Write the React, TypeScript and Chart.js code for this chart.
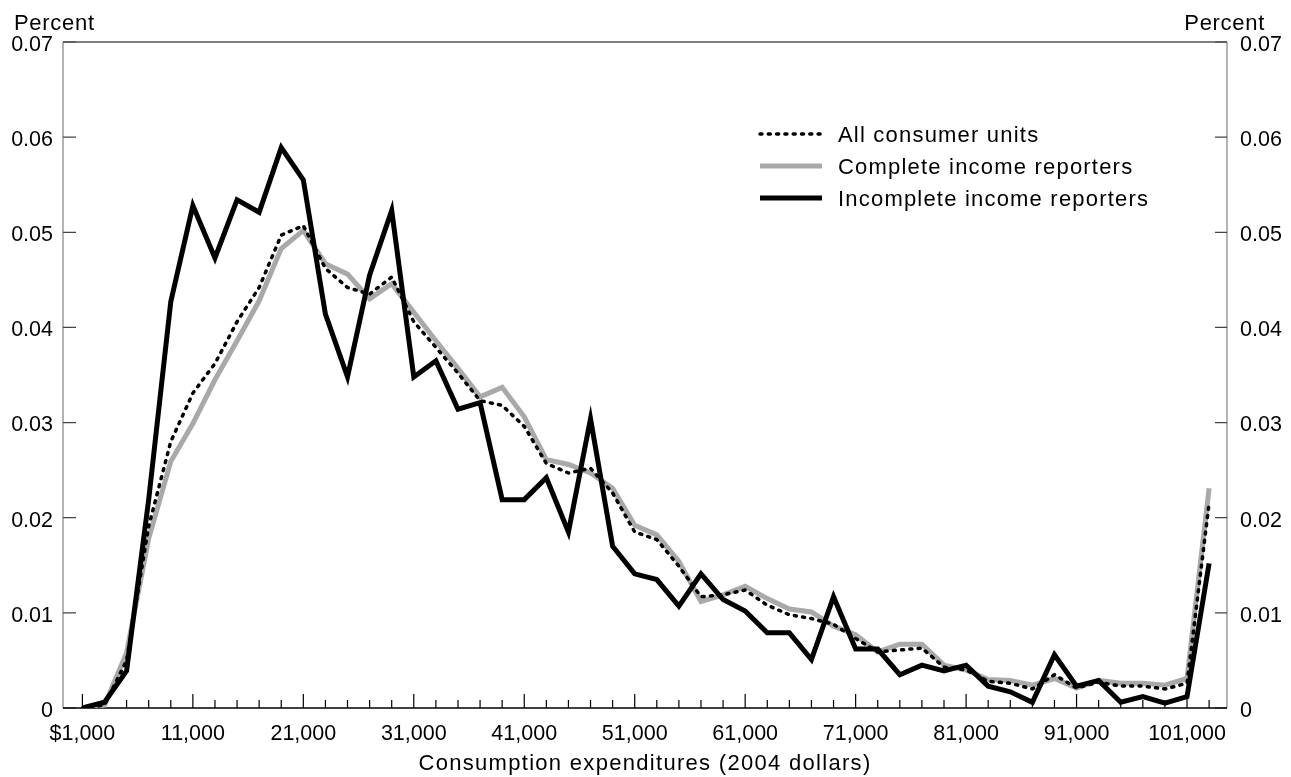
import React, { useEffect, useRef } from 'react';
import { Chart, registerables } from 'chart.js';

Chart.register(...registerables);

// Consumption expenditures (2004 dollars), bin points
const expenditures = [
  1000, 3000, 5000, 7000, 9000, 11000, 13000, 15000, 17000, 19000,
  21000, 23000, 25000, 27000, 29000, 31000, 33000, 35000, 37000, 39000,
  41000, 43000, 45000, 47000, 49000, 51000, 53000, 55000, 57000, 59000,
  61000, 63000, 65000, 67000, 69000, 71000, 73000, 75000, 77000, 79000,
  81000, 83000, 85000, 87000, 89000, 91000, 93000, 95000, 97000, 99000,
  101000, 103000,
];

const allConsumerUnits = [
  0, 0.0003, 0.005, 0.0191, 0.028, 0.0331, 0.0362, 0.0406, 0.0442, 0.0497,
  0.0507, 0.0462, 0.0442, 0.0435, 0.0453, 0.0406, 0.0379, 0.0352, 0.0323, 0.0318,
  0.0296, 0.0257, 0.0247, 0.0252, 0.0226, 0.0185, 0.0177, 0.0149, 0.0117, 0.0119,
  0.0124, 0.0108, 0.0098, 0.0094, 0.0088, 0.0073, 0.0059, 0.0061, 0.0063, 0.0043,
  0.004, 0.0028, 0.0026, 0.002, 0.0035, 0.0021, 0.0027, 0.0023, 0.0023, 0.002,
  0.0026, 0.0215,
];

const completeReporters = [
  0, 0.0003, 0.0058, 0.0178, 0.0259, 0.0299, 0.0345, 0.0386, 0.0428, 0.0483,
  0.0502, 0.0467, 0.0456, 0.043, 0.0446, 0.0416, 0.0386, 0.0357, 0.0327, 0.0337,
  0.0306, 0.0261, 0.0256, 0.0247, 0.0231, 0.0192, 0.0182, 0.0154, 0.0112, 0.0119,
  0.0128, 0.0115, 0.0104, 0.0101, 0.0086, 0.0077, 0.0059, 0.0067, 0.0067, 0.0045,
  0.004, 0.003, 0.0029, 0.0024, 0.0031, 0.0021, 0.0029, 0.0026, 0.0026, 0.0024,
  0.0031, 0.0231,
];

const incompleteReporters = [
  0, 0.0006, 0.0039, 0.0219, 0.0427, 0.0528, 0.0473, 0.0534, 0.0521, 0.0589,
  0.0555, 0.0414, 0.0348, 0.0455, 0.0523, 0.0348, 0.0365, 0.0314, 0.0321, 0.0219,
  0.0219, 0.0242, 0.0185, 0.0304, 0.017, 0.0141, 0.0135, 0.0107, 0.0141, 0.0114,
  0.0102, 0.0079, 0.0079, 0.0051, 0.0117, 0.0062, 0.0062, 0.0035, 0.0045, 0.0039,
  0.0045, 0.0023, 0.0017, 0.0006, 0.0056, 0.0023, 0.0029, 0.0006, 0.0012, 0.0005,
  0.0012, 0.0152,
];

const seriesNames = ['All consumer units', 'Complete income reporters', 'Incomplete income reporters'];

const xTickValues = [1000, 11000, 21000, 31000, 41000, 51000, 61000, 71000, 81000, 91000, 101000];
const xTickLabels = ['$1,000', '11,000', '21,000', '31,000', '41,000', '51,000', '61,000', '71,000', '81,000', '91,000', '101,000'];

const yTickValues = [0, 0.01, 0.02, 0.03, 0.04, 0.05, 0.06, 0.07];
const yTickLabels = ['0', '0.01', '0.02', '0.03', '0.04', '0.05', '0.06', '0.07'];

const axisTitleX = 'Consumption expenditures (2004 dollars)';
const axisTitleY = 'Percent';

const FONT = 'Liberation Sans, Arial, Helvetica, sans-serif';
const GRAY = '#a9a9a9';

const toPoints = (vals: number[]) => expenditures.map((x, i) => ({ x, y: vals[i] }));

const decorPlugin = {
  id: 'decor',
  beforeDatasetsDraw(chart: any) {
    const { ctx, chartArea: a, scales } = chart;
    const xs = scales.x;
    const ys = scales.y;
    ctx.save();
    ctx.lineCap = 'butt';
    // top border
    ctx.strokeStyle = '#555555';
    ctx.lineWidth = 1.3;
    ctx.beginPath();
    ctx.moveTo(a.left, a.top);
    ctx.lineTo(a.right, a.top);
    ctx.stroke();
    // left & right axes
    ctx.strokeStyle = '#8c8c8c';
    ctx.lineWidth = 1.3;
    ctx.beginPath();
    ctx.moveTo(a.left, a.top);
    ctx.lineTo(a.left, a.bottom);
    ctx.moveTo(a.right, a.top);
    ctx.lineTo(a.right, a.bottom);
    ctx.stroke();
    // y ticks (inward)
    ctx.strokeStyle = '#444444';
    ctx.lineWidth = 1.2;
    ctx.beginPath();
    yTickValues.forEach((v) => {
      const py = ys.getPixelForValue(v);
      ctx.moveTo(a.left, py);
      ctx.lineTo(a.left + 13, py);
      ctx.moveTo(a.right - 12, py);
      ctx.lineTo(a.right, py);
    });
    ctx.stroke();
    // x ticks (inward)
    ctx.strokeStyle = '#000000';
    ctx.lineWidth = 1.2;
    ctx.beginPath();
    expenditures.forEach((v) => {
      const px = xs.getPixelForValue(v);
      const len = xTickValues.includes(v) ? 14 : 8;
      ctx.moveTo(px, a.bottom);
      ctx.lineTo(px, a.bottom - len);
    });
    ctx.stroke();
    // bottom axis
    ctx.lineWidth = 1.3;
    ctx.beginPath();
    ctx.moveTo(a.left, a.bottom);
    ctx.lineTo(a.right, a.bottom);
    ctx.stroke();
    ctx.restore();
  },
  afterDraw(chart: any) {
    const { ctx, chartArea: a } = chart;
    ctx.save();
    ctx.fillStyle = '#000000';
    ctx.textBaseline = 'alphabetic';
    // "Percent" titles
    ctx.font = `22px ${FONT}`;
    (ctx as any).letterSpacing = '0.7px';
    ctx.textAlign = 'left';
    ctx.fillText(axisTitleY, 14, 29.5);
    ctx.textAlign = 'right';
    ctx.fillText(axisTitleY, 1265, 29.5);
    // x axis title
    (ctx as any).letterSpacing = '1.3px';
    ctx.textAlign = 'center';
    ctx.fillText(axisTitleX, (a.left + a.right) / 2, 770);

    // legend
    const rows = [134, 166, 198];
    const order = [0, 1, 2];
    order.forEach((di, r) => {
      const ds = chart.data.datasets[di];
      const y = rows[r];
      ctx.save();
      ctx.strokeStyle = ds.borderColor;
      ctx.lineWidth = ds.borderWidth;
      ctx.lineCap = ds.borderCapStyle || 'butt';
      ctx.setLineDash(ds.borderDash || []);
      ctx.beginPath();
      ctx.moveTo(760, y);
      ctx.lineTo(822, y);
      ctx.stroke();
      ctx.restore();
      ctx.font = `22px ${FONT}`;
      (ctx as any).letterSpacing = '1.2px';
      ctx.textAlign = 'left';
      ctx.fillText(ds.label, 838, y + 8);
    });
    ctx.restore();
  },
};

export default function App() {
  const canvasRef = useRef<HTMLCanvasElement | null>(null);

  useEffect(() => {
    const canvas = canvasRef.current;
    if (!canvas) return;
    const tickFont = { family: FONT, size: 21.5 };
    const noGrid = { display: false, drawTicks: false, drawOnChartArea: false };
    const chart = new Chart(canvas, {
      type: 'line',
      data: {
        datasets: [
          {
            label: seriesNames[0],
            data: toPoints(allConsumerUnits),
            borderColor: '#000000',
            borderWidth: 3.5,
            borderDash: [2, 6.3],
            borderCapStyle: 'round',
            pointRadius: 0,
            tension: 0,
            order: 1,
            yAxisID: 'y',
          },
          {
            label: seriesNames[1],
            data: toPoints(completeReporters),
            borderColor: GRAY,
            borderWidth: 5,
            pointRadius: 0,
            tension: 0,
            order: 2,
            yAxisID: 'y',
          },
          {
            label: seriesNames[2],
            data: toPoints(incompleteReporters),
            borderColor: '#000000',
            borderWidth: 5,
            pointRadius: 0,
            tension: 0,
            order: 0,
            yAxisID: 'y',
          },
        ],
      } as any,
      options: {
        animation: false,
        responsive: false,
        devicePixelRatio: 1,
        layout: { padding: { top: 42, left: 0, right: 0, bottom: 0 } },
        plugins: {
          legend: { display: false },
          tooltip: { enabled: false },
          title: { display: false },
        },
        scales: {
          x: {
            type: 'linear',
            min: -757,
            max: 104620,
            grid: noGrid,
            border: { display: false },
            afterBuildTicks: (s: any) => {
              s.ticks = xTickValues.map((v) => ({ value: v }));
            },
            afterFit: (s: any) => {
              s.height = 69;
            },
            ticks: {
              autoSkip: false,
              maxRotation: 0,
              minRotation: 0,
              padding: 13,
              color: '#000000',
              font: tickFont,
              callback: (_v: any, i: number) => xTickLabels[i],
            },
          },
          y: {
            type: 'linear',
            position: 'left',
            min: 0,
            max: 0.07,
            grid: noGrid,
            border: { display: false },
            afterBuildTicks: (s: any) => {
              s.ticks = yTickValues.map((v) => ({ value: v }));
            },
            afterFit: (s: any) => {
              s.width = 63;
            },
            ticks: {
              padding: 10,
              labelOffset: 3,
              color: '#000000',
              font: tickFont,
              callback: (_v: any, i: number) => yTickLabels[i],
            },
          },
          y2: {
            type: 'linear',
            position: 'right',
            min: 0,
            max: 0.07,
            grid: noGrid,
            border: { display: false },
            afterBuildTicks: (s: any) => {
              s.ticks = yTickValues.map((v) => ({ value: v }));
            },
            afterFit: (s: any) => {
              s.width = 64;
            },
            ticks: {
              padding: 13,
              labelOffset: 3,
              color: '#000000',
              font: tickFont,
              callback: (_v: any, i: number) => yTickLabels[i],
            },
          },
        },
      } as any,
      plugins: [decorPlugin],
    });
    return () => {
      chart.destroy();
    };
  }, []);

  return (
    <canvas
      ref={canvasRef}
      width={1291}
      height={777}
      style={{ display: 'block', position: 'fixed', left: 0, top: 0, background: '#ffffff' }}
    />
  );
}
